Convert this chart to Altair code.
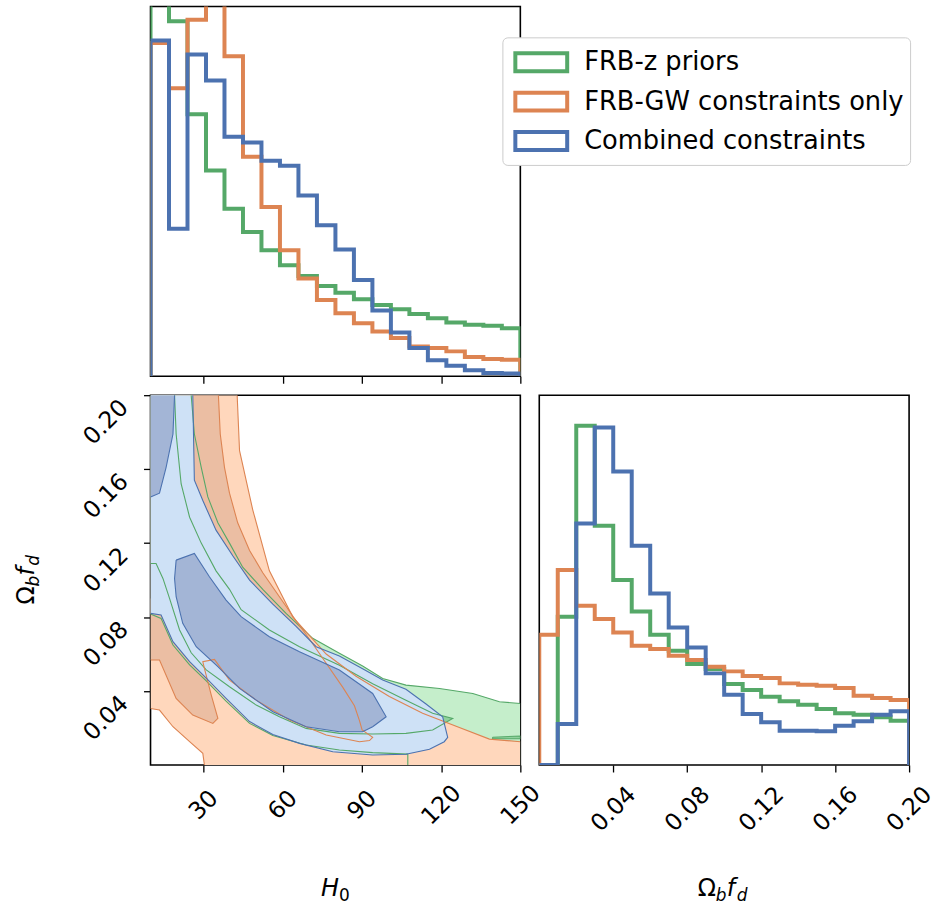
import altair as alt
import pandas as pd

SERIES = ["FRB-z priors", "FRB-GW constraints only", "Combined constraints"]
LINE_COLORS = ["#55a868", "#dd8452", "#4c72b0"]

# ---------------- 1D histograms ----------------
H0_EDGES = [10, 17, 24, 31, 38, 45, 52, 59, 66, 73, 80, 87, 94, 101, 108, 115, 122, 129, 136, 143, 150]
H0_GREEN = [1250, 1070, 790, 620, 505, 435, 380, 335, 302, 272, 252, 232, 215, 202, 188, 175, 162, 155, 152, 145]
H0_ORANGE = [1005, 868, 1075, 1300, 965, 662, 510, 380, 295, 230, 190, 160, 135, 115, 90, 85, 75, 58, 52, 50]
H0_BLUE = [1012, 445, 970, 892, 722, 705, 650, 635, 545, 455, 382, 290, 198, 132, 85, 48, 32, 18, 10, 8]

OM_EDGES = [0.00, 0.01, 0.02, 0.03, 0.04, 0.05, 0.06, 0.07, 0.08, 0.09, 0.10,
            0.11, 0.12, 0.13, 0.14, 0.15, 0.16, 0.17, 0.18, 0.19, 0.20]
OM_GREEN = [0, 445, 1018, 718, 555, 461, 391, 343, 303, 288, 243, 225, 205, 191, 181, 168, 155, 151, 143, 133]
OM_ORANGE = [391, 585, 478, 438, 398, 358, 348, 328, 315, 295, 281, 267, 261, 245, 241, 238, 231, 208, 201, 195]
OM_BLUE = [0, 123, 725, 1013, 881, 658, 515, 413, 353, 275, 211, 153, 128, 103, 103, 101, 118, 131, 151, 161]

H0_TICKS = [30, 60, 90, 120, 150]
OM_TICKS = [0.04, 0.08, 0.12, 0.16, 0.20]

# ---------------- 2D contours (H0, Omega_b f_d) ----------------
# Combined constraints (blue) 95% boundary: upper/right part then lower part
BU95_H = [26.0, 26.6, 29.8, 34.8, 41.2, 47.5, 56.3, 65.1, 72.7, 81.5, 90.3, 97.9, 106.7, 114.3, 120.6, 122.5]
BU95_O = [0.200, 0.154, 0.143, 0.127, 0.113, 0.100, 0.087, 0.075, 0.064, 0.059, 0.052, 0.046, 0.041, 0.033, 0.026, 0.015]
BL95_H = [121.2, 115.6, 106.7, 94.1, 79.0, 66.4, 56.3, 47.5, 38.6, 31.1, 24.8, 18.5, 14.0, 10.0]
BL95_O = [0.0126, 0.0085, 0.0058, 0.0054, 0.0072, 0.0117, 0.0165, 0.0235, 0.0360, 0.0470, 0.0559, 0.0667, 0.0811, 0.0820]
# blue 68%: top-left piece and banana
B68A_H = [10.0, 19.1, 18.5, 15.9, 13.4, 10.0]
B68A_O = [0.200, 0.200, 0.179, 0.161, 0.147, 0.145]
B68B_H = [19.7, 26.6, 32.3, 38.6, 44.3, 55.0, 66.4, 81.5, 94.1, 99.2, 94.1, 90.3, 81.5, 68.9, 56.3, 43.7, 35.5, 27.3, 22.2, 19.7, 19.1]
B68B_O = [0.1108, 0.1144, 0.1018, 0.0892, 0.0802, 0.0694, 0.0613, 0.0514, 0.0387, 0.0261, 0.0207, 0.0180, 0.0180,
          0.0207, 0.0288, 0.0414, 0.0532, 0.0640, 0.0766, 0.0910, 0.1009]

# FRB-GW only (orange) 95%: outer curve and inner (lower-left) curve
OO95_H = [42.8, 43.7, 48.7, 55.0, 63.9, 76.5, 87.8, 100.4, 113.0, 125.7, 138.3, 150.0]
OO95_O = [0.200, 0.170, 0.138, 0.105, 0.080, 0.060, 0.048, 0.037, 0.028, 0.021, 0.014, 0.0126]
OI95_H = [10.0, 13.4, 18.5, 24.8, 29.8, 30.4]
OI95_O = [0.0306, 0.0297, 0.0207, 0.0126, 0.0063, 0.0]
# orange 68% visible outline, and its part hidden under the blue region
O68_H = [35.7, 36.4, 38.0, 39.9, 43.0, 47.5, 52.5, 58.8, 65.1, 70.2, 76.5, 82.8, 87.2, 89.1, 90.1, 94.1, 92.9,
         89.1, 76.5, 62.6, 50.0, 39.9, 34.2, 29.8, 30.4, 33.0, 35.5, 33.6, 26.0, 19.7, 13.4, 10.0]
O68_O = [0.200, 0.179, 0.161, 0.147, 0.131, 0.116, 0.104, 0.091, 0.078, 0.068, 0.055, 0.042, 0.032, 0.024, 0.019,
         0.015, 0.0132, 0.0126, 0.0162, 0.0243, 0.0351, 0.0459, 0.0571, 0.0559, 0.0523, 0.0378, 0.0252, 0.0225,
         0.0270, 0.0360, 0.0568, 0.0568]
O68_HIDDEN_H = [10.0, 24.8, 24.8, 26.0]
O68_HIDDEN_O = [0.090, 0.090, 0.150, 0.200]

# FRB-z priors (green) 95%: upper curve and lower curve
GU95_H = [25.4, 26.6, 29.2, 31.7, 35.5, 39.9, 44.9, 52.5, 61.3, 71.4, 81.5, 90.3, 97.9, 106.7, 119.4, 132.0, 142.1, 150.0]
GU95_O = [0.200, 0.179, 0.161, 0.145, 0.131, 0.120, 0.107, 0.095, 0.082, 0.0685, 0.0604, 0.0535, 0.0468, 0.0432,
          0.0414, 0.0387, 0.0342, 0.0333]
GL95_H = [10.0, 14.0, 18.5, 24.8, 31.1, 38.6, 47.5, 56.3, 68.9, 81.5, 94.1, 107.4, 107.4]
GL95_O = [0.0816, 0.0793, 0.0649, 0.0541, 0.0455, 0.0345, 0.0225, 0.0160, 0.0108, 0.0081, 0.0067, 0.0059, 0.0]
# green 68%
GU68_H = [19.1, 19.7, 21.6, 24.8, 29.2, 34.8, 39.9, 44.3, 55.0, 66.4, 81.5, 94.1, 106.7, 116.8, 124.4]
GU68_O = [0.200, 0.179, 0.152, 0.134, 0.120, 0.105, 0.095, 0.084, 0.073, 0.064, 0.054, 0.044, 0.035, 0.028, 0.0252]
GL68_H = [116.8, 106.7, 94.1, 81.5, 68.9, 58.8, 50.0, 39.9, 31.1, 25.4, 21.0, 17.2, 14.7, 12.1, 10.0]
GL68_O = [0.0189, 0.0171, 0.0168, 0.0171, 0.0198, 0.0261, 0.0324, 0.0423, 0.0514, 0.0607, 0.0730, 0.0901,
          0.1009, 0.1090, 0.1090]
G68I_H = [139.5, 150.0, 150.0, 139.5]
G68I_O = [0.0150, 0.0157, 0.0142, 0.0142]

FILL = {
    "g95": "#c5eecb", "g68": "#8fd19c",
    "o95": "#ffd7bc", "o68": "#ebbea3",
    "b95": "#cee1f6", "b68": "#a3b5d6",
}

FONT = "DejaVu Sans"
W = 371
H = 371
TICK_FS = 23.5


# ---------------- helpers ----------------
def step_df(edges, heights, name, xf, yf):
    xs = [edges[0]] + list(edges[:-1]) + [edges[-1], edges[-1]]
    ys = [0] + list(heights) + [heights[-1], 0]
    return pd.DataFrame({xf: xs, yf: ys, "series": name, "k": list(range(len(xs)))})


def path_df(paths):
    rows = []
    for pid, (hs, os) in enumerate(paths):
        for k, (h, o) in enumerate(zip(hs, os)):
            rows.append({"h0c": h, "omc": o, "pid": pid, "k": k})
    return pd.DataFrame(rows)


def rev(a):
    return list(reversed(a))


dummy = pd.DataFrame({"d": [0]})


def txt(t, x, y, size=25, style="normal", angle=0):
    return alt.Chart(dummy).mark_text(
        text=t, font=FONT, fontSize=size, fontStyle=style, align="left",
        baseline="alphabetic", angle=angle, color="black"
    ).encode(x=alt.value(x), y=alt.value(y))


# ---------------- top-left: H0 histogram ----------------
legend = alt.Legend(
    title=None, orient="none", legendX=353, legendY=31,
    symbolType="M-1.53,-0.53H1.53V0.53H-1.53Z", symbolSize=1156, symbolStrokeWidth=4,
    symbolFillColor="white", labelFontSize=25.8, labelFont=FONT, labelColor="black",
    labelLimit=600, fillColor="white", strokeColor="#cccccc", cornerRadius=5,
    padding=6, rowPadding=2.5, labelOffset=24, symbolOffset=14,
)
x_top = alt.X("h0:Q", scale=alt.Scale(domain=[10, 150], nice=False, zero=False),
              axis=alt.Axis(values=H0_TICKS, labels=False, title=None, tickSize=7))
y_top = alt.Y("cnt:Q", scale=alt.Scale(domain=[0, 1115], nice=False), axis=None)
col = alt.Color("series:N", scale=alt.Scale(domain=SERIES, range=LINE_COLORS), legend=legend)

top_layers = []
for name, vals in zip(SERIES, [H0_GREEN, H0_ORANGE, H0_BLUE]):
    top_layers.append(
        alt.Chart(step_df(H0_EDGES, vals, name, "h0", "cnt"))
        .mark_line(interpolate="step-after", strokeWidth=4, clip=True)
        .encode(x=x_top, y=y_top, color=col, order="k:Q")
    )
top = alt.layer(*top_layers).properties(width=W, height=H)

# ---------------- bottom-left: contours ----------------
xc = alt.X("h0c:Q", scale=alt.Scale(domain=[10, 150], nice=False, zero=False),
           axis=alt.Axis(values=H0_TICKS, format="d", title=None, tickSize=7, labelFontSize=TICK_FS,
                         labelAngle=-45, labelAlign="center", labelBaseline="middle", labelPadding=33))
yc = alt.Y("omc:Q", scale=alt.Scale(domain=[0, 0.2], nice=False, zero=False),
           axis=alt.Axis(values=OM_TICKS, format=".2f", title=None, tickSize=7, labelFontSize=TICK_FS,
                         labelAngle=-45, labelAlign="right", labelBaseline="top", labelPadding=28))


def fill_layer(paths, color):
    return alt.Chart(path_df(paths)).mark_line(filled=True, color=color, clip=True).encode(
        x=xc, y=yc, detail="pid:N", order="k:Q")


def line_layer(paths, color, width=1.1):
    return alt.Chart(path_df(paths)).mark_line(color=color, strokeWidth=width, clip=True).encode(
        x=xc, y=yc, detail="pid:N", order="k:Q")


g95_poly = ([10.0] + GU95_H + [150.0] + rev(GL95_H), [0.2] + GU95_O + [0.0] + rev(GL95_O))
g68_poly = ([10.0] + GU68_H + GL68_H, [0.2] + GU68_O + GL68_O)
o95_poly = ([10.0] + OO95_H + [150.0] + rev(OI95_H), [0.2] + OO95_O + [0.0] + rev(OI95_O))
o68_poly = (O68_H + O68_HIDDEN_H, O68_O + O68_HIDDEN_O)
b95_poly = ([10.0] + BU95_H + BL95_H, [0.2] + BU95_O + BL95_O)

layers = [
    fill_layer([g95_poly], FILL["g95"]),
    fill_layer([g68_poly, (G68I_H, G68I_O)], FILL["g68"]),
    fill_layer([o95_poly], FILL["o95"]),
    fill_layer([o68_poly], FILL["o68"]),
    fill_layer([b95_poly], FILL["b95"]),
    fill_layer([(B68A_H, B68A_O), (B68B_H, B68B_O)], FILL["b68"]),
    line_layer([(GU95_H, GU95_O), (GL95_H, GL95_O), (GU68_H + GL68_H, GU68_O + GL68_O),
                (G68I_H + G68I_H[:1], G68I_O + G68I_O[:1])], LINE_COLORS[0]),
    line_layer([(OO95_H, OO95_O), (OI95_H, OI95_O), (O68_H, O68_O)], LINE_COLORS[1]),
    line_layer([(BU95_H + BL95_H, BU95_O + BL95_O), (B68A_H[1:], B68A_O[1:]),
                (B68B_H + B68B_H[:1], B68B_O + B68B_O[:1])], LINE_COLORS[2]),
    # axis titles
    txt("H", 171, 502, 24, "italic"),
    txt("0", 189, 507, 17, "normal"),
    txt("Ω", -117, 210, 24, "normal", 270),
    txt("b", -112, 192, 17, "italic", 270),
    txt("f", -117, 181, 24, "italic", 270),
    txt("d", -112, 171, 17, "italic", 270),
]
contour = alt.layer(*layers).properties(width=W, height=H)

# ---------------- bottom-right: Omega histogram ----------------
xr = alt.X("om:Q", scale=alt.Scale(domain=[0, 0.2], nice=False, zero=False),
           axis=alt.Axis(values=OM_TICKS, format=".2f", title=None, tickSize=7, labelFontSize=TICK_FS,
                         labelAngle=-45, labelAlign="center", labelBaseline="middle", labelPadding=37))
yr = alt.Y("cnt2:Q", scale=alt.Scale(domain=[0, 1110], nice=False), axis=None)
right_layers = []
for name, vals, c in zip(SERIES, [OM_GREEN, OM_ORANGE, OM_BLUE], LINE_COLORS):
    right_layers.append(
        alt.Chart(step_df(OM_EDGES, vals, name, "om", "cnt2"))
        .mark_line(interpolate="step-after", strokeWidth=4, clip=True, color=c)
        .encode(x=xr, y=yr, order="k:Q")
    )
right_layers += [
    txt("Ω", 159, 502, 24, "normal"),
    txt("b", 177, 507, 17, "italic"),
    txt("f", 188, 502, 24, "italic"),
    txt("d", 198, 507, 17, "italic"),
]
right = alt.layer(*right_layers).properties(width=W, height=H)

bottom = alt.hconcat(contour, right, spacing=19, bounds="flush")
chart = (
    alt.vconcat(top, bottom, spacing=19, bounds="flush")
    .properties(padding={"left": 14, "top": 4, "right": -1, "bottom": 0}, background="white")
    .configure_view(stroke="black", strokeWidth=1.6)
    .configure_axis(domain=False, grid=False, tickColor="black", tickWidth=1.3,
                    labelFont=FONT, labelFontSize=TICK_FS, labelColor="black")
)

chart.save("out.html", embed_options={"renderer": "svg", "actions": False})
